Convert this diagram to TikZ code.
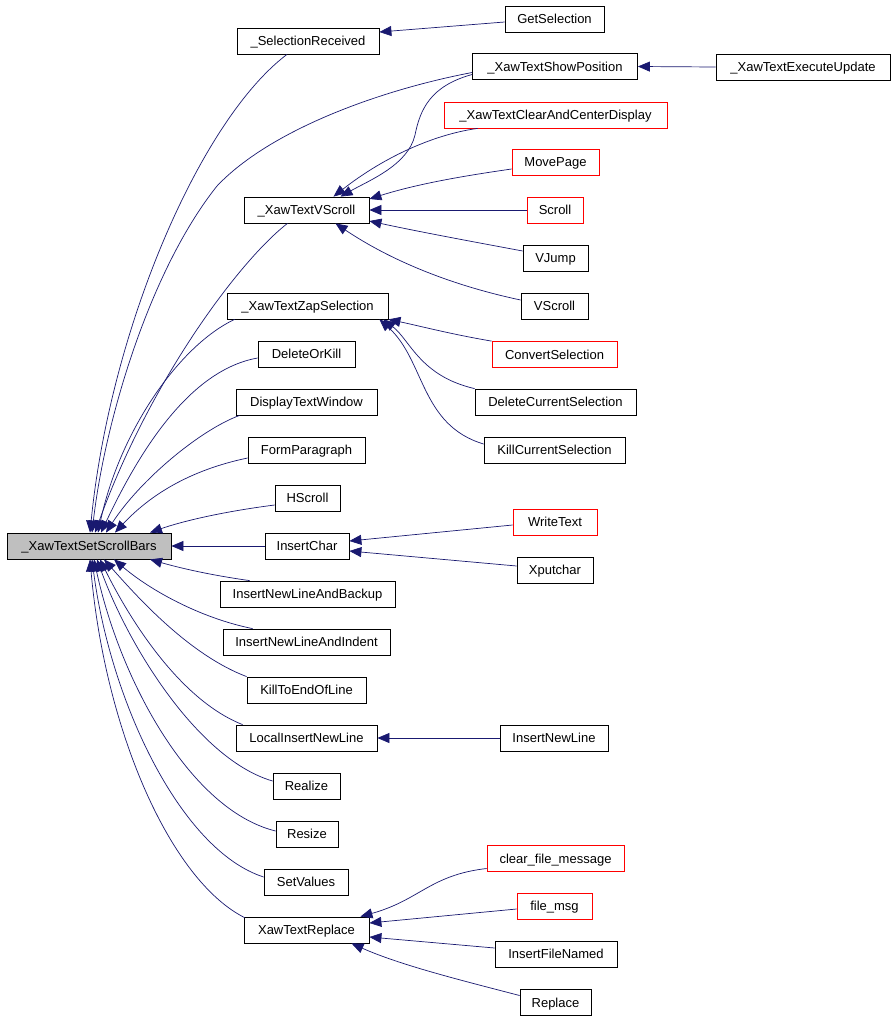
\documentclass[tikz,border=0pt]{standalone}
\usepackage{fontspec}
\setmainfont{Liberation Sans}
\usetikzlibrary{arrows.meta,calc}
\definecolor{edgeblue}{HTML}{191970}
\definecolor{rootgray}{HTML}{BFBFBF}
\begin{document}
\begin{tikzpicture}[x=1pt,y=-1pt,
  box/.style={draw=black,line width=0.8pt,fill=white,minimum height=26pt,inner sep=0pt,text height=9.3pt,text depth=0pt,font=\fontsize{13}{15}\selectfont},
  redbox/.style={box,draw=red},
  rootbox/.style={box,fill=rootgray},
  edge/.style={draw=edgeblue,line width=0.7pt,-{Triangle[length=12pt,width=10pt]}}]
\useasboundingbox[fill=white] (0,0) rectangle (895,1018);
% nodes
\node[rootbox,minimum width=164pt] (sb) at (89,546) {\_XawTextSetScrollBars};
\node[box,minimum width=142pt] (sr) at (308,41) {\_SelectionReceived};
\node[box,minimum width=99pt] (gs) at (554.5,19) {GetSelection};
\node[box,minimum width=165pt] (sp) at (555,66.5) {\_XawTextShowPosition};
\node[box,minimum width=174pt] (eu) at (803,67) {\_XawTextExecuteUpdate};
\node[redbox,minimum width=223pt] (cc) at (555.5,115) {\_XawTextClearAndCenterDisplay};
\node[redbox,minimum width=87pt] (mp) at (555.5,162) {MovePage};
\node[box,minimum width=125pt] (vs) at (306.5,210) {\_XawTextVScroll};
\node[redbox,minimum width=56pt] (sc) at (555,210) {Scroll};
\node[box,minimum width=65pt] (vj) at (555.5,258) {VJump};
\node[box,minimum width=67pt] (vsc) at (554.5,306) {VScroll};
\node[box,minimum width=161pt] (zs) at (307.5,306) {\_XawTextZapSelection};
\node[redbox,minimum width=125pt] (cs) at (554.5,354.5) {ConvertSelection};
\node[box,minimum width=97pt] (dk) at (306.5,354) {DeleteOrKill};
\node[box,minimum width=161pt] (dcs) at (555.5,402) {DeleteCurrentSelection};
\node[box,minimum width=141pt] (dtw) at (306.5,402) {DisplayTextWindow};
\node[box,minimum width=141pt] (kcs) at (554.5,450) {KillCurrentSelection};
\node[box,minimum width=117pt] (fp) at (306.5,450) {FormParagraph};
\node[box,minimum width=65pt] (hs) at (307.5,498) {HScroll};
\node[redbox,minimum width=84pt] (wt) at (555,522) {WriteText};
\node[box,minimum width=84pt] (ic) at (307,546) {InsertChar};
\node[box,minimum width=76pt] (xp) at (555,570) {Xputchar};
\node[box,minimum width=175pt] (inlb) at (307.5,594) {InsertNewLineAndBackup};
\node[box,minimum width=167pt] (inli) at (306.5,642) {InsertNewLineAndIndent};
\node[box,minimum width=119pt] (ktl) at (306.5,690) {KillToEndOfLine};
\node[box,minimum width=141pt] (lin) at (306.5,738) {LocalInsertNewLine};
\node[box,minimum width=108pt] (inl) at (554,738) {InsertNewLine};
\node[box,minimum width=67pt] (re) at (306.5,786) {Realize};
\node[box,minimum width=62pt] (rs) at (307,834) {Resize};
\node[redbox,minimum width=137pt] (cfm) at (555.5,858.5) {clear\_file\_message};
\node[box,minimum width=84pt] (sv) at (306,882) {SetValues};
\node[redbox,minimum width=75pt] (fm) at (554.5,906) {file\_msg};
\node[box,minimum width=125pt] (xr) at (306.5,930) {XawTextReplace};
\node[box,minimum width=122pt] (ifn) at (556,954) {InsertFileNamed};
\node[box,minimum width=71pt] (rp) at (555.5,1002.5) {Replace};
% edges into root
\draw[edge] ($(sr.south)+(-21,0)$) .. controls (200,120) and (110,330) .. ($(sb.north)+(1,0)$);
\draw[edge] ($(sp.west)+(0,6)$) .. controls (380,90) and (270,130) .. (217,186) .. controls (150,270) and (105,420) .. ($(sb.north)+(3,0)$);
\draw[edge] ($(vs.south)+(-19,0)$) .. controls (240,260) and (150,380) .. ($(sb.north)+(6,0)$);
\draw[edge] ($(zs.south west)+(8,0)$) .. controls (180,345) and (120,430) .. ($(sb.north)+(9,0)$);
\draw[edge] ($(dk.west)+(0,4)$) .. controls (190,370) and (140,450) .. ($(sb.north)+(12,0)$);
\draw[edge] ($(dtw.south west)+(4,0)$) .. controls (200,430) and (140,480) .. ($(sb.north)+(17,0)$);
\draw[edge] ($(fp.west)+(0,8)$) .. controls (190,470) and (150,495) .. ($(sb.north)+(26,0)$);
\draw[edge] ($(hs.west)+(0,7)$) .. controls (220,512) and (180,522) .. ($(sb.north)+(61,0)$);
\draw[edge] (ic.west) -- (sb.east);
\draw[edge] ($(inlb.north west)+(30,0)$) .. controls (210,575) and (180,568) .. ($(sb.south)+(61,0)$);
\draw[edge] ($(inli.north west)+(30,0)$) .. controls (200,618) and (150,590) .. ($(sb.south)+(25,0)$);
\draw[edge] (ktl.north west) .. controls (190,655) and (140,600) .. ($(sb.south)+(15,0)$);
\draw[edge] ($(lin.north west)+(7,0)$) .. controls (180,700) and (130,620) .. ($(sb.south)+(11,0)$);
\draw[edge] ($(re.west)+(0,-5)$) .. controls (200,760) and (130,650) .. ($(sb.south)+(8,0)$);
\draw[edge] ($(rs.west)+(0,-3)$) .. controls (190,810) and (120,680) .. ($(sb.south)+(5,0)$);
\draw[edge] ($(sv.west)+(0,-5)$) .. controls (180,850) and (110,700) .. ($(sb.south)+(3,0)$);
\draw[edge] ($(xr.north west)+(1,1)$) .. controls (170,880) and (105,730) .. ($(sb.south)+(1,0)$);
% right side edges
\draw[edge] ($(gs.west)+(0,3)$) -- ($(sr.east)+(0,-9)$);
\draw[edge] (eu.west) -- (sp.east);
\draw[edge] ($(sp.west)+(0,8)$) .. controls (430,86) and (420,110) .. (415,135) .. controls (408,165) and (370,180) .. ($(vs.north)+(34,0)$);
\draw[edge] ($(cc.south west)+(34,0)$) .. controls (430,135) and (380,160) .. ($(vs.north)+(27,0)$);
\draw[edge] ($(mp.west)+(0,7)$) .. controls (470,175) and (420,183) .. ($(vs.east)+(0,-11)$);
\draw[edge] (sc.west) -- (vs.east);
\draw[edge] ($(vj.west)+(0,-7)$) .. controls (480,243) and (420,232) .. ($(vs.east)+(0,11)$);
\draw[edge] ($(vsc.west)+(0,-6)$) .. controls (450,285) and (390,260) .. ($(vs.south)+(29,0)$);
\draw[edge] (cs.north west) .. controls (450,334) and (420,326) .. (zs.south east);
\draw[edge] (dcs.north west) .. controls (420,376) and (410,340) .. ($(zs.south east)+(-5,0)$);
\draw[edge] ($(kcs.west)+(0,-6)$) .. controls (420,425) and (425,360) .. ($(zs.south east)+(-9,0)$);
\draw[edge] ($(wt.west)+(0,3)$) -- ($(ic.east)+(0,-5)$);
\draw[edge] ($(xp.west)+(0,-4)$) -- ($(ic.east)+(0,5)$);
\draw[edge] (inl.west) -- (lin.east);
\draw[edge] ($(cfm.west)+(0,10)$) .. controls (430,875) and (420,900) .. ($(xr.north east)+(-9,0)$);
\draw[edge] ($(fm.west)+(0,3)$) -- ($(xr.east)+(0,-7)$);
\draw[edge] ($(ifn.west)+(0,-6)$) -- ($(xr.east)+(0,7)$);
\draw[edge] ($(rp.west)+(0,-7)$) .. controls (460,980) and (400,965) .. ($(xr.south)+(45,0)$);
\end{tikzpicture}
\end{document}
